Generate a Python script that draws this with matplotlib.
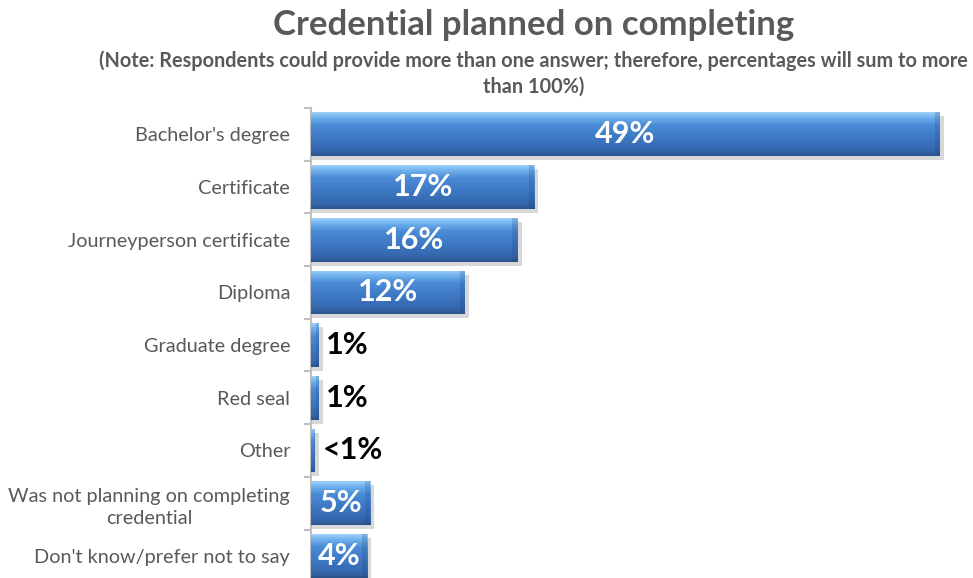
import numpy as np
import matplotlib.pyplot as plt
from matplotlib.colors import LinearSegmentedColormap
from matplotlib.patches import Rectangle

categories = ["Bachelor's degree", "Certificate", "Journeyperson certificate",
              "Diploma", "Graduate degree", "Red seal", "Other",
              "Was not planning on completing\ncredential",
              "Don't know/prefer not to say"]
values = [49.0, 17.4, 16.1, 12.0, 0.6, 0.6, 0.3, 4.6, 4.4]
value_labels = ["49%", "17%", "16%", "12%", "1%", "1%", "<1%", "5%", "4%"]

plt.rcParams['font.family'] = ['Lato', 'DejaVu Sans']

fig = plt.figure(figsize=(9.73, 5.78), dpi=100)
ax = fig.add_axes([311 / 973, 0, 662 / 973, 470 / 578])

y = np.arange(len(categories))
bar_h = 0.83

# gradient like the office bevel look
cmap = LinearSegmentedColormap.from_list(
    'bev', [(0.0, '#9fd0fa'), (0.12, '#6fb0ee'), (0.3, '#4a8ad6'),
            (0.6, '#3c78c4'), (0.88, '#3566ab'), (1.0, '#2b548e')])
grad = np.linspace(0, 1, 100).reshape(-1, 1)

# shadows first
px_x = 51.6 / 662
px_y = 1 / 52.7
for yi, v in zip(y, values):
    ax.add_patch(Rectangle((0, yi - bar_h / 2 + 4 * px_y), v + 4 * px_x, bar_h,
                           color='#cfcfcf', alpha=0.8, lw=0, zorder=1))

bars = ax.barh(y, values, height=bar_h, color='#3c78c4', zorder=2)
for b in bars:
    x0, y0, w, h = b.get_x(), b.get_y(), b.get_width(), b.get_height()
    im = ax.imshow(grad, extent=[x0, x0 + w, y0 + h, y0], cmap=cmap,
                   aspect='auto', zorder=3, origin='upper')
    im.set_clip_path(b)
    # darker right end
    end = min(0.4, w * 0.3)
    ax.add_patch(Rectangle((x0 + w - end, y0), end, h, color='#1f3f70',
                           alpha=0.2, lw=0, zorder=4))

for yi, v, lab in zip(y, values, value_labels):
    if v >= 3:
        ax.text(v / 2, yi, lab, ha='center', va='center', color='white',
                fontsize=22, fontweight='bold', zorder=5)
    else:
        ax.text(v + 0.6, yi, lab, ha='left', va='center', color='black',
                fontsize=22, fontweight='bold', zorder=5)

ax.set_xlim(0, 51.6)
ax.set_ylim(8.42, -0.5)
ax.set_yticks(y)
ax.set_yticklabels(categories, fontsize=14.3, color='#595959')
ax.tick_params(axis='y', which='major', length=0, pad=15)
ax.set_yticks(np.arange(-0.5, 8.5, 1), minor=True)
ax.tick_params(axis='y', which='minor', length=5, color='#bfbfbf', width=1.5)
ax.set_xticks([])
for s in ['top', 'right', 'bottom']:
    ax.spines[s].set_visible(False)
ax.spines['left'].set_color('#bfbfbf')
ax.spines['left'].set_linewidth(1.5)
for t in ax.get_yticklabels():
    t.set_multialignment('center')
    t.set_linespacing(1.35)

fig.text(0.548, 0.985, 'Credential planned on completing', ha='center', va='top',
         fontsize=25, fontweight='bold', color='#595959')
fig.text(0.548, 0.913, '(Note: Respondents could provide more than one answer; therefore, percentages will sum to more\nthan 100%)',
         ha='center', va='top', fontsize=14.3, fontweight='bold', color='#595959',
         multialignment='center', linespacing=1.35)

fig.savefig('out.png', dpi=100)
